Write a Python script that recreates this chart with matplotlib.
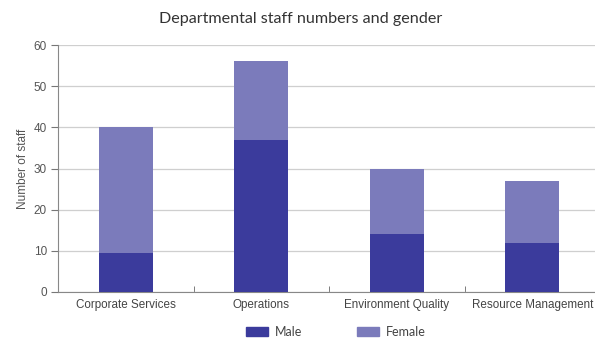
import numpy as np
import matplotlib.pyplot as plt
from matplotlib.patches import Patch
from matplotlib import font_manager

departments = ["Corporate Services", "Operations", "Environment Quality", "Resource Management"]
male = [9.5, 37, 14, 12]
female = [30.5, 19, 16, 15]

c_male = "#3b3b9c"
c_female = "#7b7bbb"

names = {f.name for f in font_manager.fontManager.ttflist}
narrow = "Liberation Sans Narrow" if "Liberation Sans Narrow" in names else "Liberation Sans"

fig = plt.figure(figsize=(5.95, 3.43), dpi=100)
# axes run a little past the right edge of the figure
ax = fig.add_axes([58/595, 1 - 292/343, 542/595, 247/343])

x = np.arange(len(departments))
ax.bar(x, male, width=0.4, color=c_male, zorder=3)
ax.bar(x, female, width=0.4, bottom=male, color=c_female, zorder=3)

ax.set_xlim(-0.5, len(departments) - 0.5)
ax.set_ylim(0, 60)
ax.set_yticks(range(0, 61, 10))
ax.yaxis.grid(True, color="#cfcfcf", linewidth=0.9, zorder=0)
ax.set_xticks(x)
ax.set_xticklabels(departments, fontsize=8.4, color="#444444", family=narrow)
ax.get_xticklabels()[-1].set_x(3 - 0.025)
ax.set_xticks(np.arange(0.5, len(departments) - 0.5, 1), minor=True)
ax.tick_params(axis="x", which="major", length=0, pad=5)
ax.tick_params(axis="x", which="minor", length=4, direction="in", color="#666666")
ax.tick_params(axis="y", length=5, direction="out", color="#777777", labelsize=8.5,
               labelcolor="#555555", pad=3)
for lbl in ax.get_yticklabels():
    lbl.set_family(narrow)

for side in ["top", "right"]:
    ax.spines[side].set_visible(False)
ax.spines["left"].set_color("#888888")
ax.spines["bottom"].set_color("#888888")

ax.set_ylabel("Number of staff", fontsize=8.5, color="#555555", labelpad=3, family=narrow)
fig.text(301/595, 1 - 19/343, "Departmental staff numbers and gender", ha="center", va="center",
         fontsize=11.6, color="#333333", family="Lato")

handles = [Patch(color=c_male, label="Male"), Patch(color=c_female, label="Female")]
fig.legend(handles=handles, loc="center", bbox_to_anchor=(336/595, 1 - 332/343), ncol=2,
           frameon=False, prop={"family": "Lato", "size": 9}, handlelength=1.75,
           handleheight=0.75, handletextpad=0.55, columnspacing=4.4, labelcolor="#444444")

fig.savefig("out.png", dpi=100)
